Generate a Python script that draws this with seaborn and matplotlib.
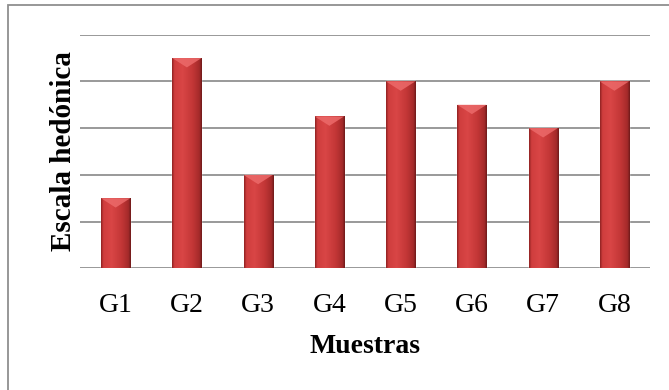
import matplotlib
matplotlib.use("Agg")
import matplotlib.pyplot as plt
import numpy as np
import seaborn as sns
from matplotlib.colors import LinearSegmentedColormap
from matplotlib.patches import Polygon, Rectangle

# data
muestras = ["G1", "G2", "G3", "G4", "G5", "G6", "G7", "G8"]
escala = [1.5, 4.5, 2.0, 3.25, 4.0, 3.5, 3.0, 4.0]

sns.set_theme(style="white")
plt.rcParams["font.family"] = ["Liberation Serif", "DejaVu Serif"]

fig = plt.figure(figsize=(6.69, 3.9), dpi=100)
ax = fig.add_axes([0.1196, 0.312, 0.852, 0.599])

sns.barplot(x=muestras, y=escala, color="#C83A3A", width=0.41, ax=ax, zorder=3)

# excel-like shaded bars: horizontal gradient clipped to each bar + light bevel on top
cmap = LinearSegmentedColormap.from_list(
    "bar",
    [(0.0, "#8E2222"), (0.08, "#CF3D3D"), (0.35, "#D94646"),
     (0.7, "#C23636"), (0.92, "#A42A2A"), (1.0, "#6E1A1A")],
)
grad = np.linspace(0, 1, 200).reshape(1, -1)
bars = list(ax.patches)
for p in bars:
    x0, y0 = p.get_x(), p.get_y()
    w, h = p.get_width(), p.get_height()
    im = ax.imshow(grad, cmap=cmap, extent=(x0, x0 + w, y0, y0 + h),
                   aspect="auto", zorder=4, interpolation="bilinear")
    im.set_clip_path(p)
    top = y0 + h
    ax.add_patch(Polygon([(x0, top), (x0 + w, top), (x0 + w * 0.5, top - 0.2)],
                         closed=True, facecolor="#EC6A6A", edgecolor="none",
                         alpha=0.85, zorder=5))

ax.set_xlim(-0.5, 7.5)
ax.set_ylim(0, 5)
ax.set_yticks(range(6))
ax.yaxis.grid(True, color="#878787", lw=1.2)
ax.set_axisbelow(True)
sns.despine(ax=ax, left=True, bottom=True)
ax.tick_params(axis="y", left=False, labelleft=False)
ax.tick_params(axis="x", bottom=False, labelsize=20, pad=12, colors="black")
ax.set_xlabel("Muestras", fontsize=20, fontweight="bold", labelpad=11, color="black")
ax.set_ylabel("Escala hedónica", fontsize=21, fontweight="bold", labelpad=2, color="black")

# chart frame (only top and left edges visible in the crop)
fig.add_artist(Rectangle((8 / 669, -0.5), 2, 0.5 + 1 - 5 / 390,
                         transform=fig.transFigure, fill=False,
                         edgecolor="#8f8f8f", lw=1.3))

fig.savefig("out.png", dpi=100)
